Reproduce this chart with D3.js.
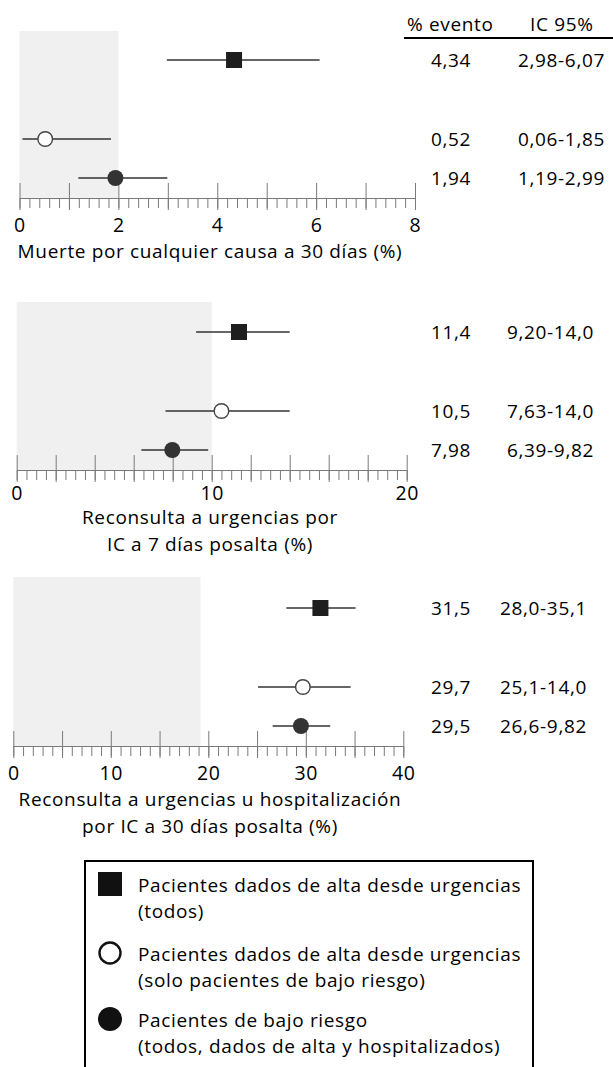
<!DOCTYPE html>
<html>
<head>
<meta charset="utf-8">
<script src="https://cdn.jsdelivr.net/npm/d3@7"></script>
<style>
  body { margin: 0; background: #fff; }
  svg { display: block; font-family: "Open Sans", Lato, sans-serif; }
  svg text { letter-spacing: 0.65px; }
</style>
</head>
<body>
<svg id="chart"></svg>
<script>
// groups, in the order they are drawn in each panel
const groups = ['todos', 'bajoRiesgoAlta', 'bajoRiesgo'];
const legendLines = [
  ['Pacientes dados de alta desde urgencias', '(todos)'],
  ['Pacientes dados de alta desde urgencias', '(solo pacientes de bajo riesgo)'],
  ['Pacientes de bajo riesgo', '(todos, dados de alta y hospitalizados)']
];

const panelTitles = [
  ['Muerte por cualquier causa a 30 días (%)'],
  ['Reconsulta a urgencias por', 'IC a 7 días posalta (%)'],
  ['Reconsulta a urgencias u hospitalización', 'por IC a 30 días posalta (%)']
];

// event rate and confidence interval, as drawn
const eventPct = [[4.34, 0.52, 1.94], [11.4, 10.5, 7.98], [31.5, 29.7, 29.5]];
const ciLow = [[2.98, 0.06, 1.19], [9.20, 7.63, 6.39], [28.0, 25.1, 26.6]];
const ciHigh = [[6.07, 1.85, 2.99], [14.0, 14.0, 9.82], [35.1, 34.6, 32.5]];

// printed values in the right-hand columns
const eventLabels = [['4,34', '0,52', '1,94'], ['11,4', '10,5', '7,98'], ['31,5', '29,7', '29,5']];
const ciLabels = [
  ['2,98-6,07', '0,06-1,85', '1,19-2,99'],
  ['9,20-14,0', '7,63-14,0', '6,39-9,82'],
  ['28,0-35,1', '25,1-14,0', '26,6-9,82']
];

// axes
const axisMax = [8, 20, 40];
const majorStep = [1, 2, 5];
const minorStep = [0.2, 0.5, 1];
const tickLabels = [[0, 2, 4, 6, 8], [0, 10, 20], [0, 10, 20, 30, 40]];
const shadeMax = [2, 10, 19.2];

// layout
const W = 613, H = 1067;
const panels = [
  { x0: 19.5, x1: 415, axisY: 198, shadeTop: 31, labelDy: 34, titleY: 258, ciX: 518 },
  { x0: 16.7, x1: 406.7, axisY: 470, shadeTop: 302, labelDy: 30, titleY: 524, ciX: 507 },
  { x0: 13.3, x1: 403.3, axisY: 746, shadeTop: 577, labelDy: 34, titleY: 806, ciX: 500 }
];
const rowOffset = [138, 59, 20];
const pctX = 431;
const axisColor = '#7a7a7a';
const textSize = 19;

const svg = d3.select('#chart')
  .attr('width', W)
  .attr('height', H);

// column header
svg.append('text')
  .attr('x', 407).attr('y', 31)
  .attr('font-size', textSize)
  .text('% evento');
svg.append('text')
  .attr('x', 530).attr('y', 31)
  .attr('font-size', textSize)
  .text('IC 95%');
svg.append('line')
  .attr('x1', 404).attr('x2', 613)
  .attr('y1', 38).attr('y2', 38)
  .attr('stroke', '#000')
  .attr('stroke-width', 2.2);

function eps(v) { return v + 1e-9; }

panels.forEach(function (p, i) {
  const x = d3.scaleLinear().domain([0, axisMax[i]]).range([p.x0, p.x1]);
  const g = svg.append('g');

  // shaded reference area
  g.append('rect')
    .attr('x', x(0))
    .attr('y', p.shadeTop)
    .attr('width', x(shadeMax[i]) - x(0))
    .attr('height', p.axisY - p.shadeTop)
    .attr('fill', '#f0f0f0');

  // minor ticks + axis line
  const minor = g.append('g')
    .attr('transform', 'translate(0,' + p.axisY + ')')
    .call(d3.axisBottom(x)
      .tickValues(d3.range(0, eps(axisMax[i]), minorStep[i]))
      .tickSize(10)
      .tickSizeOuter(0)
      .tickFormat(''));
  minor.select('.domain').attr('stroke', axisColor);
  minor.selectAll('line').attr('stroke', axisColor);

  // major ticks crossing the axis line
  const major = g.append('g')
    .attr('transform', 'translate(0,' + p.axisY + ')')
    .call(d3.axisBottom(x)
      .tickValues(d3.range(0, eps(axisMax[i]), majorStep[i]))
      .tickSize(12)
      .tickFormat(''));
  major.select('.domain').remove();
  major.selectAll('line').attr('y1', -15).attr('stroke', axisColor);

  // tick labels
  const labels = g.append('g')
    .attr('transform', 'translate(0,' + p.axisY + ')')
    .call(d3.axisBottom(x)
      .tickValues(tickLabels[i])
      .tickSize(0)
      .tickFormat(d3.format('d')));
  labels.select('.domain').remove();
  labels.selectAll('text')
    .attr('y', p.labelDy)
    .attr('dy', null)
    .attr('fill', '#000')
    .attr('font-size', 19.5)
    .attr('font-family', '"Open Sans", sans-serif');

  // axis title
  g.append('text')
    .attr('text-anchor', 'middle')
    .attr('font-size', textSize)
    .selectAll('tspan')
    .data(panelTitles[i])
    .join('tspan')
    .attr('x', 210)
    .attr('y', function (d, j) { return p.titleY + j * 27; })
    .text(function (d) { return d; });

  const rows = groups.map(function (key, j) {
    return {
      key: key,
      value: eventPct[i][j],
      lo: ciLow[i][j],
      hi: ciHigh[i][j],
      y: p.axisY - rowOffset[j],
      pct: eventLabels[i][j],
      ci: ciLabels[i][j]
    };
  });

  // confidence intervals
  g.selectAll('line.ci')
    .data(rows)
    .join('line')
    .attr('class', 'ci')
    .attr('x1', function (d) { return x(d.lo); })
    .attr('x2', function (d) { return x(d.hi); })
    .attr('y1', function (d) { return d.y; })
    .attr('y2', function (d) { return d.y; })
    .attr('stroke', '#333')
    .attr('stroke-width', 1.4);

  // markers
  rows.forEach(function (d) {
    if (d.key === 'todos') {
      g.append('rect')
        .attr('x', x(d.value) - 8)
        .attr('y', d.y - 8)
        .attr('width', 16)
        .attr('height', 16)
        .attr('fill', '#1e1e1e');
    } else if (d.key === 'bajoRiesgoAlta') {
      g.append('circle')
        .attr('cx', x(d.value))
        .attr('cy', d.y)
        .attr('r', 7.3)
        .attr('fill', '#fff')
        .attr('stroke', '#444')
        .attr('stroke-width', 1.4);
    } else {
      g.append('circle')
        .attr('cx', x(d.value))
        .attr('cy', d.y)
        .attr('r', 8)
        .attr('fill', '#333');
    }
  });

  // values on the right
  g.selectAll('text.pct')
    .data(rows)
    .join('text')
    .attr('class', 'pct')
    .attr('x', pctX)
    .attr('y', function (d) { return d.y + 7; })
    .attr('font-size', textSize)
    .text(function (d) { return d.pct; });
  g.selectAll('text.ic')
    .data(rows)
    .join('text')
    .attr('class', 'ic')
    .attr('x', p.ciX)
    .attr('y', function (d) { return d.y + 7; })
    .attr('font-size', textSize)
    .text(function (d) { return d.ci; });
});

// legend
const legend = svg.append('g');
legend.append('rect')
  .attr('x', 85).attr('y', 861)
  .attr('width', 448).attr('height', 240)
  .attr('fill', 'none')
  .attr('stroke', '#000')
  .attr('stroke-width', 2);

const legendY = [884, 953, 1019];
groups.forEach(function (key, j) {
  const cy = legendY[j];
  if (key === 'todos') {
    legend.append('rect')
      .attr('x', 98).attr('y', cy - 12)
      .attr('width', 24).attr('height', 24)
      .attr('fill', '#111');
  } else if (key === 'bajoRiesgoAlta') {
    legend.append('circle')
      .attr('cx', 110).attr('cy', cy).attr('r', 10.5)
      .attr('fill', '#fff')
      .attr('stroke', '#111')
      .attr('stroke-width', 2.4);
  } else {
    legend.append('circle')
      .attr('cx', 110).attr('cy', cy).attr('r', 12)
      .attr('fill', '#111');
  }
  legend.append('text')
    .attr('font-size', textSize)
    .selectAll('tspan')
    .data(legendLines[j])
    .join('tspan')
    .attr('x', 138)
    .attr('y', function (d, k) { return cy + 8 + k * 26; })
    .text(function (d) { return d; });
});
</script>
</body>
</html>
